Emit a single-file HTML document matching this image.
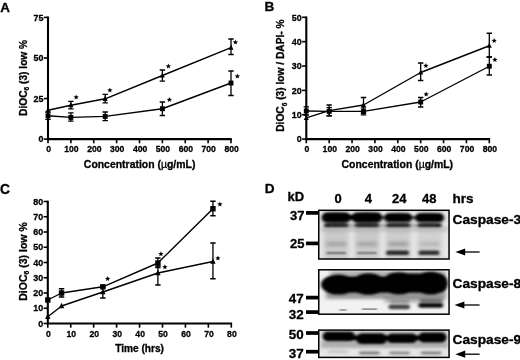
<!DOCTYPE html>
<html><head><meta charset="utf-8"><title>Figure</title>
<style>html,body{margin:0;padding:0;background:#fff;overflow:hidden}svg{display:block;will-change:transform;opacity:0.999}text{fill:#000;stroke:#000;stroke-width:0.3px}</style>
</head><body>
<svg width="520" height="360" viewBox="0 0 520 360">
<rect width="520" height="360" fill="#fff"/>
<defs>
<filter id="b1" x="-20%" y="-60%" width="140%" height="220%"><feGaussianBlur stdDeviation="1.4 0.9"/></filter>
<filter id="b2" x="-20%" y="-60%" width="140%" height="220%"><feGaussianBlur stdDeviation="2.2 1.6"/></filter>
<filter id="b3" x="-20%" y="-80%" width="140%" height="260%"><feGaussianBlur stdDeviation="1.3 0.75"/></filter>
<filter id="b4" x="-20%" y="-60%" width="140%" height="220%"><feGaussianBlur stdDeviation="1.6 1.2"/></filter>
<clipPath id="c1"><rect x="318.75" y="210.3" width="130.3" height="48.7"/></clipPath>
<clipPath id="c2"><rect x="318.75" y="269.8" width="130.3" height="44.4"/></clipPath>
<clipPath id="c3"><rect x="318.75" y="330.1" width="130.3" height="27.3"/></clipPath>
</defs>
<text x="0.2" y="11.6" font-size="13.4" font-family="Liberation Sans, sans-serif" font-weight="bold">A</text>
<text x="264.6" y="11.4" font-size="13.6" font-family="Liberation Sans, sans-serif" font-weight="bold">B</text>
<text x="0" y="193.6" font-size="13.8" font-family="Liberation Sans, sans-serif" font-weight="bold">C</text>
<text x="264.7" y="192.9" font-size="13.6" font-family="Liberation Sans, sans-serif" font-weight="bold">D</text>
<path d="M48.00 16.60V139.10H231.80" stroke="#000" stroke-width="2.1" fill="none" stroke-linejoin="miter"/><path d="M48.00 139.10v4.2" stroke="#000" stroke-width="1.6"/><path d="M70.88 139.10v4.2" stroke="#000" stroke-width="1.6"/><path d="M93.75 139.10v4.2" stroke="#000" stroke-width="1.6"/><path d="M116.62 139.10v4.2" stroke="#000" stroke-width="1.6"/><path d="M139.50 139.10v4.2" stroke="#000" stroke-width="1.6"/><path d="M162.38 139.10v4.2" stroke="#000" stroke-width="1.6"/><path d="M185.25 139.10v4.2" stroke="#000" stroke-width="1.6"/><path d="M208.12 139.10v4.2" stroke="#000" stroke-width="1.6"/><path d="M231.00 139.10v4.2" stroke="#000" stroke-width="1.6"/><path d="M48.00 139.10h-4.2" stroke="#000" stroke-width="1.6"/><path d="M48.00 98.53h-4.2" stroke="#000" stroke-width="1.6"/><path d="M48.00 57.97h-4.2" stroke="#000" stroke-width="1.6"/><path d="M48.00 17.40h-4.2" stroke="#000" stroke-width="1.6"/><text transform="translate(48.60 152.40) scale(0.93 1)" font-size="9.3" text-anchor="middle" font-family="Liberation Sans, sans-serif" font-weight="bold">0</text><text transform="translate(71.47 152.40) scale(0.93 1)" font-size="9.3" text-anchor="middle" font-family="Liberation Sans, sans-serif" font-weight="bold">100</text><text transform="translate(94.35 152.40) scale(0.93 1)" font-size="9.3" text-anchor="middle" font-family="Liberation Sans, sans-serif" font-weight="bold">200</text><text transform="translate(117.22 152.40) scale(0.93 1)" font-size="9.3" text-anchor="middle" font-family="Liberation Sans, sans-serif" font-weight="bold">300</text><text transform="translate(140.10 152.40) scale(0.93 1)" font-size="9.3" text-anchor="middle" font-family="Liberation Sans, sans-serif" font-weight="bold">400</text><text transform="translate(162.97 152.40) scale(0.93 1)" font-size="9.3" text-anchor="middle" font-family="Liberation Sans, sans-serif" font-weight="bold">500</text><text transform="translate(185.85 152.40) scale(0.93 1)" font-size="9.3" text-anchor="middle" font-family="Liberation Sans, sans-serif" font-weight="bold">600</text><text transform="translate(208.72 152.40) scale(0.93 1)" font-size="9.3" text-anchor="middle" font-family="Liberation Sans, sans-serif" font-weight="bold">700</text><text transform="translate(231.60 152.40) scale(0.93 1)" font-size="9.3" text-anchor="middle" font-family="Liberation Sans, sans-serif" font-weight="bold">800</text><text transform="translate(43.40 142.30) scale(0.96 1)" font-size="9.3" text-anchor="end" font-family="Liberation Sans, sans-serif" font-weight="bold">0</text><text transform="translate(43.40 101.73) scale(0.96 1)" font-size="9.3" text-anchor="end" font-family="Liberation Sans, sans-serif" font-weight="bold">25</text><text transform="translate(43.40 61.17) scale(0.96 1)" font-size="9.3" text-anchor="end" font-family="Liberation Sans, sans-serif" font-weight="bold">50</text><text transform="translate(43.40 20.60) scale(0.96 1)" font-size="9.3" text-anchor="end" font-family="Liberation Sans, sans-serif" font-weight="bold">75</text>
<path d="M48.00 110.30 L70.88 105.20 L105.19 98.80 L162.38 75.50 L231.00 47.60" stroke="#000" stroke-width="1.4" fill="none" stroke-linejoin="round"/>
<polygon points="48.00,107.20 45.50,112.40 50.50,112.40" fill="#000"/>
<path d="M70.88 101.40V108.90M68.17 101.40H73.58M68.17 108.90H73.58" stroke="#000" stroke-width="1.3" fill="none"/>
<polygon points="70.88,102.10 68.38,107.30 73.38,107.30" fill="#000"/>
<path d="M105.19 94.30V102.80M102.49 94.30H107.89M102.49 102.80H107.89" stroke="#000" stroke-width="1.3" fill="none"/>
<polygon points="105.19,95.70 102.69,100.90 107.69,100.90" fill="#000"/>
<path d="M162.38 70.00V81.20M159.68 70.00H165.07M159.68 81.20H165.07" stroke="#000" stroke-width="1.3" fill="none"/>
<polygon points="162.38,72.40 159.88,77.60 164.88,77.60" fill="#000"/>
<path d="M231.00 39.00V54.50M228.30 39.00H233.70M228.30 54.50H233.70" stroke="#000" stroke-width="1.3" fill="none"/>
<polygon points="231.00,44.50 228.50,49.70 233.50,49.70" fill="#000"/>
<path d="M48.00 115.70 L70.88 117.40 L105.19 116.40 L162.38 108.75 L231.00 83.00" stroke="#000" stroke-width="1.4" fill="none" stroke-linejoin="round"/>
<path d="M48.00 112.00V119.40M45.30 112.00H50.70M45.30 119.40H50.70" stroke="#000" stroke-width="1.3" fill="none"/>
<rect x="45.55" y="113.25" width="4.90" height="4.90" fill="#000"/>
<path d="M70.88 112.80V121.20M68.17 112.80H73.58M68.17 121.20H73.58" stroke="#000" stroke-width="1.3" fill="none"/>
<rect x="68.42" y="114.95" width="4.90" height="4.90" fill="#000"/>
<path d="M105.19 112.00V120.70M102.49 112.00H107.89M102.49 120.70H107.89" stroke="#000" stroke-width="1.3" fill="none"/>
<rect x="102.74" y="113.95" width="4.90" height="4.90" fill="#000"/>
<path d="M162.38 102.00V115.50M159.68 102.00H165.07M159.68 115.50H165.07" stroke="#000" stroke-width="1.3" fill="none"/>
<rect x="159.93" y="106.30" width="4.90" height="4.90" fill="#000"/>
<path d="M231.00 71.00V95.50M228.30 71.00H233.70M228.30 95.50H233.70" stroke="#000" stroke-width="1.3" fill="none"/>
<rect x="228.55" y="80.55" width="4.90" height="4.90" fill="#000"/>
<polygon points="76.15,94.50 76.84,96.35 78.81,96.43 77.27,97.66 77.80,99.57 76.15,98.48 74.50,99.57 75.03,97.66 73.49,96.43 75.46,96.35" fill="#000"/>
<polygon points="109.90,87.50 110.59,89.35 112.56,89.43 111.02,90.66 111.55,92.57 109.90,91.48 108.25,92.57 108.78,90.66 107.24,89.43 109.21,89.35" fill="#000"/>
<polygon points="168.40,63.50 169.09,65.35 171.06,65.43 169.52,66.66 170.05,68.57 168.40,67.48 166.75,68.57 167.28,66.66 165.74,65.43 167.71,65.35" fill="#000"/>
<polygon points="235.40,39.50 236.09,41.35 238.06,41.43 236.52,42.66 237.05,44.57 235.40,43.48 233.75,44.57 234.28,42.66 232.74,41.43 234.71,41.35" fill="#000"/>
<polygon points="169.40,97.00 170.09,98.85 172.06,98.93 170.52,100.16 171.05,102.07 169.40,100.98 167.75,102.07 168.28,100.16 166.74,98.93 168.71,98.85" fill="#000"/>
<polygon points="237.40,73.50 238.09,75.35 240.06,75.43 238.52,76.66 239.05,78.57 237.40,77.48 235.75,78.57 236.28,76.66 234.74,75.43 236.71,75.35" fill="#000"/>
<text transform="translate(26.70 77.90) rotate(-90)" font-size="10.2" text-anchor="middle" font-family="Liberation Sans, sans-serif" font-weight="bold"><tspan>DiOC</tspan><tspan font-size="6.63" dy="2.2">6</tspan><tspan dy="-2.2" font-size="10.2">&#8203;</tspan><tspan> (3) low %</tspan></text>
<text transform="translate(139.6 167.5) scale(0.985 1)" font-size="10.6" text-anchor="middle" font-family="Liberation Sans, sans-serif" font-weight="bold">Concentration (<tspan font-weight="normal">&#181;</tspan>g/mL)</text>
<path d="M306.30 16.50V139.10H490.10" stroke="#000" stroke-width="2.1" fill="none" stroke-linejoin="miter"/><path d="M306.30 139.10v4.2" stroke="#000" stroke-width="1.6"/><path d="M329.18 139.10v4.2" stroke="#000" stroke-width="1.6"/><path d="M352.05 139.10v4.2" stroke="#000" stroke-width="1.6"/><path d="M374.93 139.10v4.2" stroke="#000" stroke-width="1.6"/><path d="M397.80 139.10v4.2" stroke="#000" stroke-width="1.6"/><path d="M420.68 139.10v4.2" stroke="#000" stroke-width="1.6"/><path d="M443.55 139.10v4.2" stroke="#000" stroke-width="1.6"/><path d="M466.43 139.10v4.2" stroke="#000" stroke-width="1.6"/><path d="M489.30 139.10v4.2" stroke="#000" stroke-width="1.6"/><path d="M306.30 139.10h-4.2" stroke="#000" stroke-width="1.6"/><path d="M306.30 114.74h-4.2" stroke="#000" stroke-width="1.6"/><path d="M306.30 90.38h-4.2" stroke="#000" stroke-width="1.6"/><path d="M306.30 66.02h-4.2" stroke="#000" stroke-width="1.6"/><path d="M306.30 41.66h-4.2" stroke="#000" stroke-width="1.6"/><path d="M306.30 17.30h-4.2" stroke="#000" stroke-width="1.6"/><text transform="translate(306.90 152.40) scale(0.93 1)" font-size="9.3" text-anchor="middle" font-family="Liberation Sans, sans-serif" font-weight="bold">0</text><text transform="translate(329.78 152.40) scale(0.93 1)" font-size="9.3" text-anchor="middle" font-family="Liberation Sans, sans-serif" font-weight="bold">100</text><text transform="translate(352.65 152.40) scale(0.93 1)" font-size="9.3" text-anchor="middle" font-family="Liberation Sans, sans-serif" font-weight="bold">200</text><text transform="translate(375.53 152.40) scale(0.93 1)" font-size="9.3" text-anchor="middle" font-family="Liberation Sans, sans-serif" font-weight="bold">300</text><text transform="translate(398.40 152.40) scale(0.93 1)" font-size="9.3" text-anchor="middle" font-family="Liberation Sans, sans-serif" font-weight="bold">400</text><text transform="translate(421.28 152.40) scale(0.93 1)" font-size="9.3" text-anchor="middle" font-family="Liberation Sans, sans-serif" font-weight="bold">500</text><text transform="translate(444.15 152.40) scale(0.93 1)" font-size="9.3" text-anchor="middle" font-family="Liberation Sans, sans-serif" font-weight="bold">600</text><text transform="translate(467.03 152.40) scale(0.93 1)" font-size="9.3" text-anchor="middle" font-family="Liberation Sans, sans-serif" font-weight="bold">700</text><text transform="translate(489.90 152.40) scale(0.93 1)" font-size="9.3" text-anchor="middle" font-family="Liberation Sans, sans-serif" font-weight="bold">800</text><text transform="translate(301.70 142.30) scale(0.96 1)" font-size="9.3" text-anchor="end" font-family="Liberation Sans, sans-serif" font-weight="bold">0</text><text transform="translate(301.70 117.94) scale(0.96 1)" font-size="9.3" text-anchor="end" font-family="Liberation Sans, sans-serif" font-weight="bold">10</text><text transform="translate(301.70 93.58) scale(0.96 1)" font-size="9.3" text-anchor="end" font-family="Liberation Sans, sans-serif" font-weight="bold">20</text><text transform="translate(301.70 69.22) scale(0.96 1)" font-size="9.3" text-anchor="end" font-family="Liberation Sans, sans-serif" font-weight="bold">30</text><text transform="translate(301.70 44.86) scale(0.96 1)" font-size="9.3" text-anchor="end" font-family="Liberation Sans, sans-serif" font-weight="bold">40</text><text transform="translate(301.70 20.50) scale(0.96 1)" font-size="9.3" text-anchor="end" font-family="Liberation Sans, sans-serif" font-weight="bold">50</text>
<path d="M306.30 117.90 L329.18 110.60 L363.49 105.00 L420.68 72.50 L489.30 45.75" stroke="#000" stroke-width="1.4" fill="none" stroke-linejoin="round"/>
<polygon points="306.30,114.80 303.80,120.00 308.80,120.00" fill="#000"/>
<path d="M329.18 105.00V115.80M326.48 105.00H331.88M326.48 115.80H331.88" stroke="#000" stroke-width="1.3" fill="none"/>
<polygon points="329.18,107.50 326.68,112.70 331.68,112.70" fill="#000"/>
<path d="M363.49 97.50V113.00M360.79 97.50H366.19M360.79 113.00H366.19" stroke="#000" stroke-width="1.3" fill="none"/>
<polygon points="363.49,101.90 360.99,107.10 365.99,107.10" fill="#000"/>
<path d="M420.68 63.00V80.50M417.98 63.00H423.38M417.98 80.50H423.38" stroke="#000" stroke-width="1.3" fill="none"/>
<polygon points="420.68,69.40 418.18,74.60 423.18,74.60" fill="#000"/>
<path d="M489.30 33.25V57.00M486.60 33.25H492.00M486.60 57.00H492.00" stroke="#000" stroke-width="1.3" fill="none"/>
<polygon points="489.30,42.65 486.80,47.85 491.80,47.85" fill="#000"/>
<path d="M306.30 111.00 L329.18 111.40 L363.49 111.40 L420.68 102.00 L489.30 66.25" stroke="#000" stroke-width="1.4" fill="none" stroke-linejoin="round"/>
<path d="M306.30 106.80V115.00M303.60 106.80H309.00M303.60 115.00H309.00" stroke="#000" stroke-width="1.3" fill="none"/>
<rect x="303.85" y="108.55" width="4.90" height="4.90" fill="#000"/>
<path d="M329.18 107.60V115.80M326.48 107.60H331.88M326.48 115.80H331.88" stroke="#000" stroke-width="1.3" fill="none"/>
<rect x="326.73" y="108.95" width="4.90" height="4.90" fill="#000"/>
<path d="M363.49 107.80V114.90M360.79 107.80H366.19M360.79 114.90H366.19" stroke="#000" stroke-width="1.3" fill="none"/>
<rect x="361.04" y="108.95" width="4.90" height="4.90" fill="#000"/>
<path d="M420.68 97.50V107.00M417.98 97.50H423.38M417.98 107.00H423.38" stroke="#000" stroke-width="1.3" fill="none"/>
<rect x="418.23" y="99.55" width="4.90" height="4.90" fill="#000"/>
<path d="M489.30 57.00V75.00M486.60 57.00H492.00M486.60 75.00H492.00" stroke="#000" stroke-width="1.3" fill="none"/>
<rect x="486.85" y="63.80" width="4.90" height="4.90" fill="#000"/>
<polygon points="425.90,63.00 426.59,64.85 428.56,64.93 427.02,66.16 427.55,68.07 425.90,66.98 424.25,68.07 424.78,66.16 423.24,64.93 425.21,64.85" fill="#000"/>
<polygon points="494.15,38.00 494.84,39.85 496.81,39.93 495.27,41.16 495.80,43.07 494.15,41.98 492.50,43.07 493.03,41.16 491.49,39.93 493.46,39.85" fill="#000"/>
<polygon points="494.90,57.00 495.59,58.85 497.56,58.93 496.02,60.16 496.55,62.07 494.90,60.98 493.25,62.07 493.78,60.16 492.24,58.93 494.21,58.85" fill="#000"/>
<polygon points="426.15,91.50 426.84,93.35 428.81,93.43 427.27,94.66 427.80,96.57 426.15,95.48 424.50,96.57 425.03,94.66 423.49,93.43 425.46,93.35" fill="#000"/>
<text transform="translate(284.40 75.60) rotate(-90)" font-size="10.2" text-anchor="middle" font-family="Liberation Sans, sans-serif" font-weight="bold"><tspan>DiOC</tspan><tspan font-size="6.63" dy="2.2">6</tspan><tspan dy="-2.2" font-size="10.2">&#8203;</tspan><tspan> (3) low / DAPI- %</tspan></text>
<text transform="translate(397.3 167.5) scale(0.985 1)" font-size="10.6" text-anchor="middle" font-family="Liberation Sans, sans-serif" font-weight="bold">Concentration (<tspan font-weight="normal">&#181;</tspan>g/mL)</text>
<path d="M47.80 200.70V323.50H232.10" stroke="#000" stroke-width="2.1" fill="none" stroke-linejoin="miter"/><path d="M47.80 323.50v4.2" stroke="#000" stroke-width="1.6"/><path d="M70.74 323.50v4.2" stroke="#000" stroke-width="1.6"/><path d="M93.67 323.50v4.2" stroke="#000" stroke-width="1.6"/><path d="M116.61 323.50v4.2" stroke="#000" stroke-width="1.6"/><path d="M139.55 323.50v4.2" stroke="#000" stroke-width="1.6"/><path d="M162.49 323.50v4.2" stroke="#000" stroke-width="1.6"/><path d="M185.43 323.50v4.2" stroke="#000" stroke-width="1.6"/><path d="M208.36 323.50v4.2" stroke="#000" stroke-width="1.6"/><path d="M231.30 323.50v4.2" stroke="#000" stroke-width="1.6"/><path d="M47.80 323.50h-4.2" stroke="#000" stroke-width="1.6"/><path d="M47.80 308.25h-4.2" stroke="#000" stroke-width="1.6"/><path d="M47.80 293.00h-4.2" stroke="#000" stroke-width="1.6"/><path d="M47.80 277.75h-4.2" stroke="#000" stroke-width="1.6"/><path d="M47.80 262.50h-4.2" stroke="#000" stroke-width="1.6"/><path d="M47.80 247.25h-4.2" stroke="#000" stroke-width="1.6"/><path d="M47.80 232.00h-4.2" stroke="#000" stroke-width="1.6"/><path d="M47.80 216.75h-4.2" stroke="#000" stroke-width="1.6"/><path d="M47.80 201.50h-4.2" stroke="#000" stroke-width="1.6"/><text transform="translate(48.40 336.80) scale(0.93 1)" font-size="9.3" text-anchor="middle" font-family="Liberation Sans, sans-serif" font-weight="bold">0</text><text transform="translate(71.34 336.80) scale(0.93 1)" font-size="9.3" text-anchor="middle" font-family="Liberation Sans, sans-serif" font-weight="bold">10</text><text transform="translate(94.27 336.80) scale(0.93 1)" font-size="9.3" text-anchor="middle" font-family="Liberation Sans, sans-serif" font-weight="bold">20</text><text transform="translate(117.21 336.80) scale(0.93 1)" font-size="9.3" text-anchor="middle" font-family="Liberation Sans, sans-serif" font-weight="bold">30</text><text transform="translate(140.15 336.80) scale(0.93 1)" font-size="9.3" text-anchor="middle" font-family="Liberation Sans, sans-serif" font-weight="bold">40</text><text transform="translate(163.09 336.80) scale(0.93 1)" font-size="9.3" text-anchor="middle" font-family="Liberation Sans, sans-serif" font-weight="bold">50</text><text transform="translate(186.03 336.80) scale(0.93 1)" font-size="9.3" text-anchor="middle" font-family="Liberation Sans, sans-serif" font-weight="bold">60</text><text transform="translate(208.96 336.80) scale(0.93 1)" font-size="9.3" text-anchor="middle" font-family="Liberation Sans, sans-serif" font-weight="bold">70</text><text transform="translate(231.90 336.80) scale(0.93 1)" font-size="9.3" text-anchor="middle" font-family="Liberation Sans, sans-serif" font-weight="bold">80</text><text transform="translate(43.20 326.70) scale(0.96 1)" font-size="9.3" text-anchor="end" font-family="Liberation Sans, sans-serif" font-weight="bold">0</text><text transform="translate(43.20 311.45) scale(0.96 1)" font-size="9.3" text-anchor="end" font-family="Liberation Sans, sans-serif" font-weight="bold">10</text><text transform="translate(43.20 296.20) scale(0.96 1)" font-size="9.3" text-anchor="end" font-family="Liberation Sans, sans-serif" font-weight="bold">20</text><text transform="translate(43.20 280.95) scale(0.96 1)" font-size="9.3" text-anchor="end" font-family="Liberation Sans, sans-serif" font-weight="bold">30</text><text transform="translate(43.20 265.70) scale(0.96 1)" font-size="9.3" text-anchor="end" font-family="Liberation Sans, sans-serif" font-weight="bold">40</text><text transform="translate(43.20 250.45) scale(0.96 1)" font-size="9.3" text-anchor="end" font-family="Liberation Sans, sans-serif" font-weight="bold">50</text><text transform="translate(43.20 235.20) scale(0.96 1)" font-size="9.3" text-anchor="end" font-family="Liberation Sans, sans-serif" font-weight="bold">60</text><text transform="translate(43.20 219.95) scale(0.96 1)" font-size="9.3" text-anchor="end" font-family="Liberation Sans, sans-serif" font-weight="bold">70</text><text transform="translate(43.20 204.70) scale(0.96 1)" font-size="9.3" text-anchor="end" font-family="Liberation Sans, sans-serif" font-weight="bold">80</text>
<path d="M47.80 316.80 L61.56 306.00 L102.85 292.00 L157.90 273.00 L212.95 261.50" stroke="#000" stroke-width="1.4" fill="none" stroke-linejoin="round"/>
<polygon points="47.80,313.50 45.10,319.10 50.50,319.10" fill="#000"/>
<polygon points="61.56,302.70 58.86,308.30 64.26,308.30" fill="#000"/>
<path d="M102.85 287.50V298.00M100.15 287.50H105.55M100.15 298.00H105.55" stroke="#000" stroke-width="1.3" fill="none"/>
<polygon points="102.85,288.70 100.15,294.30 105.55,294.30" fill="#000"/>
<path d="M157.90 266.00V285.00M155.20 266.00H160.60M155.20 285.00H160.60" stroke="#000" stroke-width="1.3" fill="none"/>
<polygon points="157.90,269.70 155.20,275.30 160.60,275.30" fill="#000"/>
<path d="M212.95 243.00V278.75M210.25 243.00H215.65M210.25 278.75H215.65" stroke="#000" stroke-width="1.3" fill="none"/>
<polygon points="212.95,258.20 210.25,263.80 215.65,263.80" fill="#000"/>
<path d="M47.80 300.00 L61.56 293.00 L102.85 286.80 L157.90 263.00 L212.95 208.75" stroke="#000" stroke-width="1.4" fill="none" stroke-linejoin="round"/>
<rect x="45.10" y="297.30" width="5.40" height="5.40" fill="#000"/>
<path d="M61.56 288.75V297.00M58.86 288.75H64.26M58.86 297.00H64.26" stroke="#000" stroke-width="1.3" fill="none"/>
<rect x="58.86" y="290.30" width="5.40" height="5.40" fill="#000"/>
<rect x="100.15" y="284.10" width="5.40" height="5.40" fill="#000"/>
<path d="M157.90 258.00V267.50M155.20 258.00H160.60M155.20 267.50H160.60" stroke="#000" stroke-width="1.3" fill="none"/>
<rect x="155.20" y="260.30" width="5.40" height="5.40" fill="#000"/>
<path d="M212.95 201.25V215.75M210.25 201.25H215.65M210.25 215.75H215.65" stroke="#000" stroke-width="1.3" fill="none"/>
<rect x="210.25" y="206.05" width="5.40" height="5.40" fill="#000"/>
<polygon points="107.60,276.00 108.29,277.85 110.26,277.93 108.72,279.16 109.25,281.07 107.60,279.98 105.95,281.07 106.48,279.16 104.94,277.93 106.91,277.85" fill="#000"/>
<polygon points="219.90,201.50 220.59,203.35 222.56,203.43 221.02,204.66 221.55,206.57 219.90,205.48 218.25,206.57 218.78,204.66 217.24,203.43 219.21,203.35" fill="#000"/>
<polygon points="217.90,255.50 218.59,257.35 220.56,257.43 219.02,258.66 219.55,260.57 217.90,259.48 216.25,260.57 216.78,258.66 215.24,257.43 217.21,257.35" fill="#000"/>
<polygon points="160.90,251.25 161.59,253.10 163.56,253.18 162.02,254.41 162.55,256.32 160.90,255.23 159.25,256.32 159.78,254.41 158.24,253.18 160.21,253.10" fill="#000"/>
<polygon points="164.90,264.25 165.59,266.10 167.56,266.18 166.02,267.41 166.55,269.32 164.90,268.23 163.25,269.32 163.78,267.41 162.24,266.18 164.21,266.10" fill="#000"/>
<text transform="translate(27.10 261.50) rotate(-90)" font-size="10.5" text-anchor="middle" font-family="Liberation Sans, sans-serif" font-weight="bold"><tspan>DiOC</tspan><tspan font-size="6.83" dy="2.2">6</tspan><tspan dy="-2.2" font-size="10.5">&#8203;</tspan><tspan> (3) low %</tspan></text>
<text x="139.6" y="351.7" font-size="10.1" text-anchor="middle" font-family="Liberation Sans, sans-serif" font-weight="bold">Time (hrs)</text>
<text x="287.6" y="201.3" font-size="13" font-family="Liberation Sans, sans-serif" font-weight="bold">kD</text>
<text x="338" y="203.1" font-size="13" text-anchor="middle" font-family="Liberation Sans, sans-serif" font-weight="bold">0</text>
<text x="368.4" y="203.1" font-size="13" text-anchor="middle" font-family="Liberation Sans, sans-serif" font-weight="bold">4</text>
<text x="399.2" y="203.1" font-size="13" text-anchor="middle" font-family="Liberation Sans, sans-serif" font-weight="bold">24</text>
<text x="429.3" y="203.1" font-size="13" text-anchor="middle" font-family="Liberation Sans, sans-serif" font-weight="bold">48</text>
<text transform="translate(452.40 203.10) scale(1.04 1)" font-size="13" text-anchor="start" font-family="Liberation Sans, sans-serif" font-weight="bold">hrs</text>
<text x="304.4" y="220.4" font-size="13" text-anchor="end" font-family="Liberation Sans, sans-serif" font-weight="bold">37</text><rect x="306" y="211.05" width="13" height="3.7" fill="#000"/>
<text x="304.4" y="248.3" font-size="13" text-anchor="end" font-family="Liberation Sans, sans-serif" font-weight="bold">25</text><rect x="306" y="241.55" width="13" height="3.7" fill="#000"/>
<text x="303.7" y="303.1" font-size="13.4" text-anchor="end" font-family="Liberation Sans, sans-serif" font-weight="bold">47</text><rect x="306" y="295.75" width="13" height="3.7" fill="#000"/>
<text x="303.7" y="318.6" font-size="13.4" text-anchor="end" font-family="Liberation Sans, sans-serif" font-weight="bold">32</text><rect x="306" y="310.25" width="13" height="3.7" fill="#000"/>
<text x="303.7" y="338.6" font-size="13.4" text-anchor="end" font-family="Liberation Sans, sans-serif" font-weight="bold">50</text><rect x="306" y="331.15" width="13" height="3.7" fill="#000"/>
<text x="303.7" y="357.9" font-size="13.4" text-anchor="end" font-family="Liberation Sans, sans-serif" font-weight="bold">37</text><rect x="306" y="349.84999999999997" width="13" height="3.7" fill="#000"/>
<text transform="translate(452.50 224.40) scale(1.055 1)" font-size="13" text-anchor="start" font-family="Liberation Sans, sans-serif" font-weight="bold">Caspase-3</text>
<text transform="translate(452.50 288.30) scale(1.055 1)" font-size="13" text-anchor="start" font-family="Liberation Sans, sans-serif" font-weight="bold">Caspase-8</text>
<text transform="translate(452.50 344.00) scale(1.055 1)" font-size="13" text-anchor="start" font-family="Liberation Sans, sans-serif" font-weight="bold">Caspase-9</text>
<path d="M459.4 252H479.6" stroke="#000" stroke-width="1.3"/><polygon points="455.4,252 465.2,248.4 465.2,255.6" fill="#000"/>
<path d="M458.6 305H479.6" stroke="#000" stroke-width="1.3"/><polygon points="454.6,305 464.40000000000003,301.4 464.40000000000003,308.6" fill="#000"/>
<path d="M459.4 354.2H479.6" stroke="#000" stroke-width="1.3"/><polygon points="455.4,354.2 465.2,350.59999999999997 465.2,357.8" fill="#000"/>
<g clip-path="url(#c1)">
<rect x="318" y="209" width="133" height="52" fill="#e6e6e6"/>
<g filter="url(#b2)">
<rect x="321" y="226" width="127" height="6" fill="#8a8a8a" opacity="0.3"/>
<rect x="323.7" y="222" width="25" height="40" fill="#888" opacity="0.3"/>
<ellipse cx="336.2" cy="219" rx="14.5" ry="6.5" fill="#444" opacity="0.62"/>
<rect x="326.2" y="241.5" width="20" height="5" fill="#777" opacity="0.4"/>
<rect x="354.5" y="222" width="25" height="40" fill="#888" opacity="0.3"/>
<ellipse cx="367" cy="219" rx="14.5" ry="6.5" fill="#444" opacity="0.62"/>
<rect x="357" y="241.5" width="20" height="5" fill="#777" opacity="0.38"/>
<rect x="385.7" y="222" width="25" height="40" fill="#888" opacity="0.27"/>
<ellipse cx="398.2" cy="219" rx="14.5" ry="6.5" fill="#444" opacity="0.5"/>
<rect x="388.2" y="241.5" width="20" height="5" fill="#777" opacity="0.46"/>
<rect x="417.1" y="222" width="25" height="40" fill="#888" opacity="0.22"/>
<ellipse cx="429.6" cy="219" rx="14.5" ry="6.5" fill="#444" opacity="0.5"/>
<rect x="419.6" y="241.5" width="20" height="5" fill="#777" opacity="0.26"/>
</g>
<g filter="url(#b1)">
<rect x="336" y="214.8" width="31" height="5" fill="#000"/>
<rect x="367" y="216" width="63" height="3" fill="#000" opacity="0.7"/>
<rect x="322.0" y="212.4" width="28.4" height="9.8" rx="4.9" fill="#000"/>
<rect x="352" y="212.4" width="30" height="9.8" rx="4.9" fill="#000"/>
<rect x="384.59999999999997" y="213.3" width="27.2" height="8.4" rx="4.2" fill="#000"/>
<rect x="415.40000000000003" y="213.2" width="28.4" height="8.6" rx="4.3" fill="#000"/>
<rect x="324.2" y="223.6" width="24" height="3.3" rx="1.6" fill="#000" opacity="0.92"/>
<rect x="355" y="223.6" width="24" height="3.3" rx="1.6" fill="#000" opacity="0.92"/>
<rect x="386.2" y="223.6" width="24" height="3.3" rx="1.6" fill="#000" opacity="0.92"/>
<rect x="417.6" y="223.6" width="24" height="3.3" rx="1.6" fill="#000" opacity="0.92"/>
<rect x="330" y="224.2" width="106" height="2.2" fill="#333" opacity="0.4"/>
<rect x="386" y="250.5" width="23" height="4.6" rx="2.2" fill="#000" opacity="0.8"/>
<rect x="418.5" y="250.5" width="21" height="4.6" rx="2.2" fill="#000" opacity="0.78"/>
</g>
<g filter="url(#b3)">
<rect x="326.2" y="251.4" width="20" height="3.2" rx="1.5" fill="#000" opacity="0.3"/>
<rect x="357" y="251.4" width="20" height="3.2" rx="1.5" fill="#000" opacity="0.28"/>
</g>
</g>
<rect x="318.75" y="210.3" width="130.3" height="48.7" fill="none" stroke="#000" stroke-width="1.5"/>
<g clip-path="url(#c2)">
<rect x="318" y="268" width="133" height="48" fill="#f2f2f2"/>
<g filter="url(#b2)">
<rect x="326" y="291" width="120" height="8" fill="#444" opacity="0.5"/>
<rect x="384" y="297" width="60" height="6" fill="#555" opacity="0.35"/>
<rect x="330" y="271.5" width="116" height="4" fill="#444" opacity="0.45"/>
</g>
<g filter="url(#b4)">
<rect x="334" y="276.2" width="113.5" height="16.6" rx="8" fill="#000"/>
<rect x="384" y="273.6" width="63.5" height="18" rx="8.5" fill="#000"/>
<ellipse cx="338.5" cy="284.6" rx="17.5" ry="10" fill="#000"/>
<ellipse cx="368.5" cy="284" rx="17.5" ry="10.8" fill="#000"/>
<ellipse cx="399" cy="283.4" rx="17.5" ry="11.2" fill="#000"/>
<ellipse cx="430.5" cy="283.2" rx="17" ry="11.4" fill="#000"/>
</g>
<g filter="url(#b3)">
<rect x="339.5" y="309.2" width="7" height="1.6" fill="#333" opacity="0.5"/>
<rect x="362" y="308.3" width="15" height="1.7" fill="#333" opacity="0.5"/>
</g>
<g filter="url(#b1)">
<rect x="388.5" y="304.6" width="21.5" height="4.6" rx="2.2" fill="#000" opacity="0.72"/>
<rect x="418.3" y="303" width="25" height="4.8" rx="2.2" fill="#000" opacity="0.95"/>
<rect x="390" y="300.6" width="19" height="2" fill="#222" opacity="0.45"/>
<rect x="420" y="299.4" width="22.5" height="2.5" fill="#111" opacity="0.6"/>
</g>
</g>
<rect x="318.75" y="269.8" width="130.3" height="44.4" fill="none" stroke="#000" stroke-width="1.5"/>
<g clip-path="url(#c3)">
<rect x="318" y="329" width="133" height="30" fill="#e6e6e6"/>
<g filter="url(#b2)">
<rect x="321" y="341" width="127" height="7" fill="#777" opacity="0.5"/>
<rect x="321" y="331" width="127" height="3" fill="#777" opacity="0.35"/>
</g>
<g filter="url(#b1)">
<rect x="326" y="335.4" width="118" height="5" fill="#000"/>
<rect x="322.5" y="331.8" width="32.6" height="9.4" rx="4.7" fill="#000"/>
<rect x="356.1" y="333.20000000000005" width="31.0" height="10.8" rx="5.4" fill="#000"/>
<rect x="386.8" y="333.5" width="30.4" height="9.6" rx="4.8" fill="#000"/>
<rect x="418.3" y="332.6" width="28.4" height="9.8" rx="4.9" fill="#000"/>
<rect x="327.5" y="350.2" width="21" height="3" rx="1.5" fill="#222" opacity="0.16"/>
<rect x="359.0" y="351.5" width="21" height="3" rx="1.5" fill="#222" opacity="0.52"/>
<rect x="389.0" y="351.6" width="21" height="3" rx="1.5" fill="#222" opacity="0.45"/>
<rect x="420.7" y="351.4" width="21" height="3" rx="1.5" fill="#222" opacity="0.5"/>
</g>
</g>
<rect x="318.75" y="330.1" width="130.3" height="27.3" fill="none" stroke="#000" stroke-width="1.5"/>
</svg>
</body></html>
